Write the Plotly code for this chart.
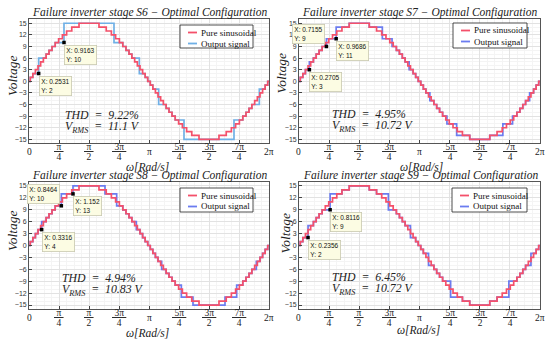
import numpy as np
import plotly.graph_objects as go

PI = np.pi

# ---------------- data ----------------
# reference ("pure sinusoidal") staircase: first-quarter switching angles (rad) and levels
RED_Q1_ANGLES = [0.0333, 0.1002, 0.1674, 0.2355, 0.3047, 0.3754, 0.4482, 0.5236,
                 0.6025, 0.6857, 0.7754, 0.8740, 0.9851, 1.1198, 1.3096]
RED_Q1_LEVELS = [1, 2, 3, 4, 5, 6, 7, 8, 9, 10, 11, 12, 13, 14, 15]

# output signal, first-quarter switching angles / levels per failure case
S6_ANGLES = [0.0333, 0.1002, 0.2531, 0.4482, 0.5236, 0.6025, 0.6857, 0.9163]
S6_LEVELS = [1, 2, 6, 7, 8, 9, 10, 15]
S7_ANGLES = [0.0333, 0.1002, 0.1674, 0.2705, 0.3754, 0.4482, 0.5236, 0.6025, 0.7155, 0.9686, 1.3096]
S7_LEVELS = [1, 2, 3, 5, 6, 7, 8, 9, 11, 14, 15]
S8_ANGLES = [0.0333, 0.1002, 0.1674, 0.2355, 0.3316, 0.4482, 0.5236, 0.6025, 0.6857, 0.8464, 1.1520]
S8_LEVELS = [1, 2, 3, 4, 6, 7, 8, 9, 10, 13, 15]
S9_ANGLES = [0.0333, 0.1002, 0.2356, 0.3754, 0.4482, 0.5236, 0.6025, 0.8116, 1.1198, 1.3096]
S9_LEVELS = [1, 2, 5, 6, 7, 8, 9, 13, 14, 15]

STAGES = ["S6", "S7", "S8", "S9"]
THD_VALUES = ["9.22%", "4.95%", "4.94%", "6.45%"]
VRMS_VALUES = ["11.1", "10.72", "10.83", "10.72"]
TIP_X = [[0.2531, 0.9163], [0.2705, 0.7155, 0.9686], [0.3316, 0.8464, 1.152], [0.2356, 0.8116]]
TIP_Y = [[2, 10], [3, 9, 11], [4, 10, 13], [2, 9]]
TIP_XTEXT = [["0.2531", "0.9163"], ["0.2705", "0.7155", "0.9686"], ["0.3316", "0.8464", "1.152"], ["0.2356", "0.8116"]]

XTICK_VALS = [0, PI/4, PI/2, 3*PI/4, PI, 5*PI/4, 3*PI/2, 7*PI/4, 2*PI]
XTICK_NUM = ["0", "π", "π", "3π", "π", "5π", "3π", "7π", "2π"]
XTICK_DEN = ["", "4", "2", "4", "", "4", "2", "4", ""]
YTICK_VALS = [-15, -12, -9, -6, -3, 0, 3, 6, 9, 12, 15]
LEGEND_NAMES = ["Pure sinusoidal", "Output signal"]

BLUE_ANGLES = [S6_ANGLES, S7_ANGLES, S8_ANGLES, S9_ANGLES]
BLUE_LEVELS = [S6_LEVELS, S7_LEVELS, S8_LEVELS, S9_LEVELS]


def full_wave(angles, levels):
    """Build the full period from the quarter-wave switching data (quarter/half-wave symmetry)."""
    prev = [0] + list(levels[:-1])
    xs, ys = [0.0], [0]
    for a, l in zip(angles, levels):
        xs.append(a); ys.append(l)
    for a, l in zip(reversed(angles), reversed(prev)):
        xs.append(PI - a); ys.append(l)
    for a, l in zip(angles, levels):
        xs.append(PI + a); ys.append(-l)
    for a, l in zip(reversed(angles), reversed(prev)):
        xs.append(2*PI - a); ys.append(-l)
    xs.append(2*PI); ys.append(0)
    return xs, ys


# ---------------- layout helpers ----------------
W, H = 550, 342
def fx(x): return x / W
def fy(y): return 1 - y / H

PANELS = [  # plot box in pixels: left, right, top, bottom
    (29, 269, 19.4, 143.2),
    (299, 540, 19.4, 143.2),
    (29, 269, 182, 309),
    (299, 540, 182, 309),
]
TITLE_POS = [(149.5, 13), (419.5, 13), (149.5, 175.5), (420, 175)]
YLAB_POS = [(12, 76), (281.5, 73), (12, 231), (284.5, 233)]
XLAB_POS = [(147.5, 166.5), (421.5, 166.5), (147.5, 333), (418.5, 329.5)]
THD_POS = [(63, 121.3), (330, 120.3), (60, 284), (330, 283.8)]
LEG_BOX = [(180, 253, 25, 48), (453, 527, 23, 48), (180, 253, 188, 212), (452, 527, 188, 212)]
TIP_DIR = [["br", "br"], ["br", "al", "br"], ["br", "al", "br"], ["br", "br"]]

RED = "#f4506a"
BLUES = ["#6fb0e6", "#6b7cf0", "#6b7cf0", "#6b7cf0"]
SERIF = "Liberation Serif"
SANS = "Liberation Sans"

fig = go.Figure()
annotations = []
shapes = []

red_x, red_y = full_wave(RED_Q1_ANGLES, RED_Q1_LEVELS)

for i in range(4):
    ax = "" if i == 0 else str(i + 1)
    xref, yref = "x" + ax, "y" + ax
    l, r, t, b = PANELS[i]

    bx, by = full_wave(BLUE_ANGLES[i], BLUE_LEVELS[i])
    fig.add_trace(go.Scatter(x=bx, y=by, mode="lines", line=dict(color=BLUES[i], width=1.7, shape="hv"),
                             name=LEGEND_NAMES[1], showlegend=False, xaxis=xref, yaxis=yref))
    fig.add_trace(go.Scatter(x=red_x, y=red_y, mode="lines", line=dict(color=RED, width=1.7, shape="hv"),
                             name=LEGEND_NAMES[0], showlegend=False, xaxis=xref, yaxis=yref))
    fig.add_trace(go.Scatter(x=TIP_X[i], y=TIP_Y[i], mode="markers",
                             marker=dict(symbol="square", size=3.5, color="black"),
                             showlegend=False, xaxis=xref, yaxis=yref, hoverinfo="skip"))

    fig.update_layout(**{
        "xaxis" + ax: dict(domain=[fx(l), fx(r)], anchor=yref, range=[0, 2*PI],
                           tickvals=XTICK_VALS, showticklabels=False, ticks="inside", ticklen=3,
                           tickcolor="#444", showline=True, mirror=True, linecolor="#555", linewidth=0.8,
                           showgrid=True, gridcolor="#e2e2e2", gridwidth=0.8, zeroline=False,
                           minor=dict(dtick=PI/16, showgrid=True, gridcolor="#f4f4f4", gridwidth=0.6)),
        "yaxis" + ax: dict(domain=[fy(b), fy(t)], anchor=xref, range=[-16, 16],
                           tickvals=YTICK_VALS, ticks="inside", ticklen=3, tickcolor="#444",
                           tickfont=dict(family=SANS, size=7, color="#333"),
                           showline=True, mirror=True, linecolor="#555", linewidth=0.8,
                           showgrid=True, gridcolor="#e2e2e2", gridwidth=0.8, zeroline=False,
                           minor=dict(dtick=1, showgrid=True, gridcolor="#f4f4f4", gridwidth=0.6)),
    })

    # title
    tx, ty = TITLE_POS[i]
    annotations.append(dict(x=fx(tx), y=fy(ty), xref="paper", yref="paper", showarrow=False,
                            text=f"Failure inverter stage {STAGES[i]} − Optimal Configuration",
                            font=dict(family=SERIF, size=11.5, color="#222", style="italic"),
                            xanchor="center", yanchor="middle"))
    # y label
    vx, vy = YLAB_POS[i]
    annotations.append(dict(x=fx(vx), y=fy(vy), xref="paper", yref="paper", showarrow=False,
                            text="Voltage", textangle=-90,
                            font=dict(family=SERIF, size=13.5, color="#222", style="italic"),
                            xanchor="center", yanchor="middle"))
    # x label
    wx, wy = XLAB_POS[i]
    annotations.append(dict(x=fx(wx), y=fy(wy), xref="paper", yref="paper", showarrow=False,
                            text="ω[Rad/s]",
                            font=dict(family=SERIF, size=11.5, color="#222", style="italic"),
                            xanchor="center", yanchor="middle"))
    # x tick labels (fractions): tight line spacing, larger glyphs
    for v, num, den in zip(XTICK_VALS, XTICK_NUM, XTICK_DEN):
        if den:
            txt = ("<span style='font-size:9.5px'><u>\u00a0" + num + "\u00a0</u></span><br>"
                   "<span style='font-size:9.5px'>" + den + "</span>")
        else:
            txt = "<span style='font-size:9.5px'>" + num + "</span>"
        annotations.append(dict(x=v, y=fy(b + 8.5), xref=xref, yref="paper", showarrow=False,
                                text=txt, font=dict(family=SERIF, size=7.7, color="#222"),
                                xanchor="center", yanchor="middle"))
    # THD / VRMS
    hx, hy = THD_POS[i]
    annotations.append(dict(x=fx(hx), y=fy(hy), xref="paper", yref="paper", showarrow=False,
                            text=(f"<span style='font-size:11.8px'>THD  =  {THD_VALUES[i]}</span><br>"
                                  f"<span style='font-size:11.8px'>V<sub>RMS</sub>  =  {VRMS_VALUES[i]} V</span>"),
                            font=dict(family=SERIF, size=8.8, color="#222", style="italic"),
                            align="left", xanchor="left", yanchor="middle"))
    # data tips
    for xv, yv, xt, d in zip(TIP_X[i], TIP_Y[i], TIP_XTEXT[i], TIP_DIR[i]):
        if d == "br":
            pos = dict(xanchor="left", yanchor="top", xshift=0, yshift=-2)
        else:
            pos = dict(xanchor="right", yanchor="bottom", xshift=-1, yshift=2)
        annotations.append(dict(x=xv, y=yv, xref=xref, yref=yref, showarrow=False,
                                text=f"X: {xt}<br>Y: {yv}", align="left",
                                font=dict(family=SANS, size=6.5, color="#111"),
                                bgcolor="#fcfce3", bordercolor="#c9c9b0", borderwidth=0.8, borderpad=1.5,
                                **pos))
    # legend (drawn)
    lx0, lx1, ly0, ly1 = LEG_BOX[i]
    shapes.append(dict(type="rect", xref="paper", yref="paper", x0=fx(lx0), x1=fx(lx1), y0=fy(ly1), y1=fy(ly0),
                       fillcolor="white", line=dict(color="#222", width=0.8), layer="above"))
    rows = [ly0 + 7.5, ly0 + 18.5]
    cols = [RED, BLUES[i]]
    for k in range(2):
        shapes.append(dict(type="line", xref="paper", yref="paper", x0=fx(lx0 + 8), x1=fx(lx0 + 17),
                           y0=fy(rows[k]), y1=fy(rows[k]), line=dict(color=cols[k], width=1.8), layer="above"))
        annotations.append(dict(x=fx(lx0 + 18.5), y=fy(rows[k]), xref="paper", yref="paper", showarrow=False,
                                text=LEGEND_NAMES[k], font=dict(family=SERIF, size=9, color="#111"),
                                xanchor="left", yanchor="middle"))

fig.update_layout(width=W, height=H, margin=dict(l=0, r=0, t=0, b=0),
                  paper_bgcolor="white", plot_bgcolor="white",
                  annotations=annotations, shapes=shapes, showlegend=False)
fig.write_html("out.html", config={"displayModeBar": False},
               post_script="document.body.style.margin='0';")
